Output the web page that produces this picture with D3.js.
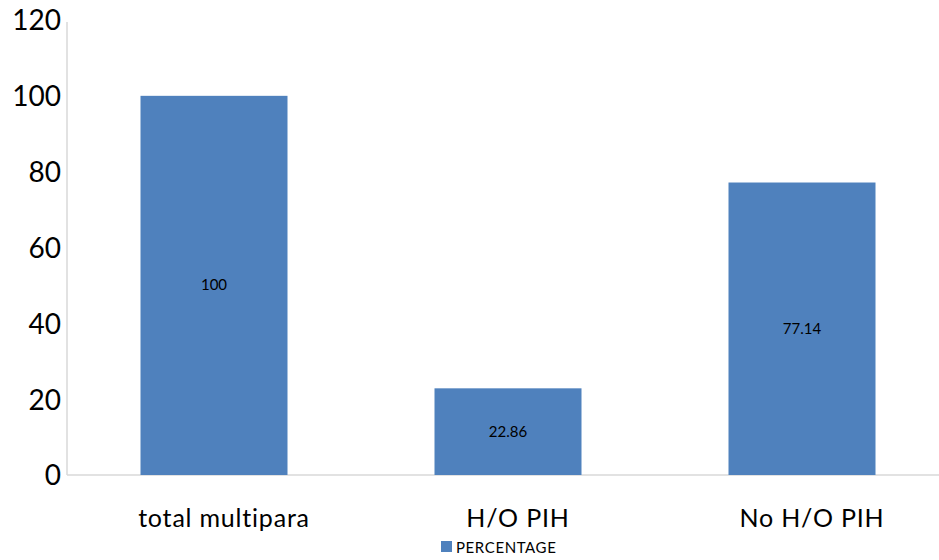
<!DOCTYPE html>
<html><head><meta charset="utf-8">
<script src="https://cdn.jsdelivr.net/npm/d3@7"></script>
<style>body{margin:0;background:#fff;} svg{display:block;font-family:Lato, "Open Sans", sans-serif;}</style>
</head><body>
<svg id="c" width="939" height="560"></svg>
<script>
const categories = ["total multipara", "H/O PIH", "No H/O PIH"];
const values = [100, 22.86, 77.14];
const valueLabels = ["100", "22.86", "77.14"];
const yTicks = [0, 20, 40, 60, 80, 100, 120];
const seriesName = "PERCENTAGE";

const svg = d3.select("#c");
const x0 = 67, yTop = 20, yBottom = 475;
const y = d3.scaleLinear().domain([0, 120]).range([yBottom, yTop]);
const x = d3.scaleBand().domain(categories).range([x0, 949]).paddingInner(0.5).paddingOuter(0.25);

// axis lines
svg.append("line").attr("x1", x0).attr("x2", x0).attr("y1", yTop + 2).attr("y2", yBottom).attr("stroke", "#d9d9d9").attr("stroke-width", 1.5);
svg.append("line").attr("x1", x0).attr("x2", 939).attr("y1", yBottom).attr("y2", yBottom).attr("stroke", "#d9d9d9").attr("stroke-width", 1.5);

// y tick labels
const yAxis = d3.axisLeft(y).tickValues(yTicks).tickSize(0).tickPadding(0);
const gy = svg.append("g").attr("transform", `translate(${x0 - 6},1)`).call(yAxis);
gy.select(".domain").remove();
gy.selectAll("text").attr("font-size", 28).attr("fill", "#000").attr("font-family", "Lato, sans-serif");

// bars
svg.selectAll("rect.bar").data(values).enter().append("rect")
  .attr("class", "bar")
  .attr("x", (d, i) => x(categories[i]))
  .attr("width", x.bandwidth())
  .attr("y", d => y(d))
  .attr("height", d => y(0) - y(d))
  .attr("fill", "#4f81bd");

// value labels
svg.selectAll("text.vl").data(values).enter().append("text")
  .attr("class", "vl")
  .attr("x", (d, i) => x(categories[i]) + x.bandwidth() / 2)
  .attr("y", d => (y(d) + y(0)) / 2 + 5)
  .attr("text-anchor", "middle")
  .attr("font-size", 15)
  .attr("fill", "#000")
  .text((d, i) => valueLabels[i]);

// x labels
const xAxis = d3.axisBottom(x).tickSize(0).tickPadding(0);
const gx = svg.append("g").attr("transform", `translate(10,${yBottom})`).call(xAxis);
gx.select(".domain").remove();
gx.selectAll("text").attr("font-size", 25).attr("fill", "#000").attr("dy", 0).attr("y", 52).attr("font-family", "Lato, sans-serif").attr("letter-spacing", 0.8);

// legend
const lg = svg.append("g");
lg.append("rect").attr("x", 441).attr("y", 541).attr("width", 11).attr("height", 11).attr("fill", "#4f81bd");
lg.append("text").attr("x", 456).attr("y", 553).attr("font-size", 15).attr("fill", "#000").attr("letter-spacing", 0.6).text(seriesName);
</script>
</body></html>
